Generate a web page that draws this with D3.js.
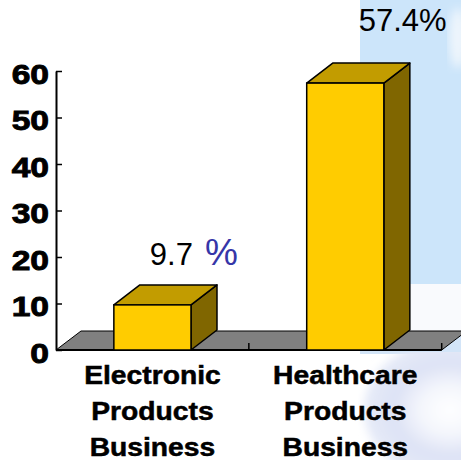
<!DOCTYPE html>
<html>
<head>
<meta charset="utf-8">
<script src="https://cdn.jsdelivr.net/npm/d3@7"></script>
<style>
  body { margin: 0; background: #fff; }
  svg { display: block; }
  text { font-family: "Liberation Sans", Arial, sans-serif; }
</style>
</head>
<body>
<svg id="chart" width="461" height="460"></svg>
<script>
// data
var categories = ["Electronic Products Business", "Healthcare Products Business"]
var shares = [9.7, 57.4]
var valueLabels = ["9.7", "57.4%"]
var yTicks = [0, 10, 20, 30, 40, 50, 60]

var svg = d3.select("#chart")
var W = 461, H = 460
var x0 = 56, x1 = 441.7, yBase = 350, yTop = 71
var depth = {dx: 26, dy: -20}      // bar depth
var floorDepth = {dx: 25, dy: -19}

var xScale = d3.scaleBand().domain(categories).range([x0, x1]).padding(0)
var yScale = d3.scaleLinear().domain([0, 60]).range([yBase, yTop])
var barW = xScale.bandwidth() * 0.4

// background (slide decoration on the right)
var defs = svg.append("defs")
defs.append("filter").attr("id", "blur")
   .append("feGaussianBlur").attr("stdDeviation", 5)
var rg = defs.append("radialGradient").attr("id", "disc")
rg.append("stop").attr("offset", "0%").attr("stop-color", "#ffffff")
rg.append("stop").attr("offset", "35%").attr("stop-color", "#f4f6fc")
rg.append("stop").attr("offset", "65%").attr("stop-color", "#dde2f5")
rg.append("stop").attr("offset", "100%").attr("stop-color", "#e6ebf8")

var bg = svg.append("g")
bg.append("rect").attr("x", 360).attr("y", 0).attr("width", W - 360).attr("height", 284)
   .attr("fill", "#cce5fa")
bg.append("rect").attr("x", 360).attr("y", 284).attr("width", W - 360).attr("height", 48)
   .attr("fill", "#f9fafd")
bg.append("rect").attr("x", 360).attr("y", 332).attr("width", W - 360).attr("height", 22)
   .attr("fill", "#d3e5f8")
bg.append("clipPath").attr("id", "rightClip")
   .append("rect").attr("x", 358).attr("y", 352).attr("width", 110).attr("height", 120)
bg.append("g").attr("clip-path", "url(#rightClip)")
   .append("ellipse").attr("cx", 450).attr("cy", 410).attr("rx", 86).attr("ry", 70)
   .attr("fill", "url(#disc)").attr("filter", "url(#blur)")
bg.append("ellipse").attr("cx", 458).attr("cy", 38).attr("rx", 9).attr("ry", 30)
   .attr("fill", "#eef5fc").attr("filter", "url(#blur)")

// floor
var floorPts = [[x0, yBase], [x0 + floorDepth.dx, yBase + floorDepth.dy],
   [x1 + floorDepth.dx, yBase + floorDepth.dy], [x1, yBase]]
svg.append("polygon")
   .attr("points", floorPts.map(p => p.join(",")).join(" "))
   .attr("fill", "#808080")
   .attr("stroke", "#000")
   .attr("stroke-width", 1)

// x axis (front edge of floor)
svg.append("line")
   .attr("x1", x0).attr("x2", x1).attr("y1", yBase).attr("y2", yBase)
   .attr("stroke", "#000").attr("stroke-width", 2)
svg.selectAll(".xtick")
   .data(categories)
   .join("line")
   .attr("class", "xtick")
   .attr("x1", d => xScale(d) + xScale.bandwidth())
   .attr("x2", d => xScale(d) + xScale.bandwidth())
   .attr("y1", yBase).attr("y2", yBase - 7)
   .attr("stroke", "#000").attr("stroke-width", 1.5)

// y axis
var yAxis = d3.axisLeft(yScale).tickValues(yTicks).tickSizeInner(-6).tickSizeOuter(0).tickPadding(7)
var gy = svg.append("g")
   .attr("transform", "translate(" + x0 + ",0)")
   .call(yAxis)
gy.select(".domain").attr("stroke", "#000").attr("stroke-width", 2)
gy.selectAll(".tick line").attr("stroke", "#000").attr("stroke-width", 1.5)
gy.selectAll(".tick text")
   .attr("x", 0).attr("y", 0).attr("dy", 0)
   .attr("transform", "translate(-7,12) scale(1.2,1)")
   .attr("fill", "#000")
   .attr("stroke", "#000")
   .attr("stroke-width", 0.9)
   .style("font-size", "28px")
   .style("font-weight", "bold")
   .style("font-family", "'Liberation Sans', Arial, sans-serif")

// 3D bars
var bars = svg.selectAll(".bar")
   .data(categories.map((c, i) => ({cat: c, v: shares[i]})))
   .join("g")
   .attr("class", "bar")

bars.each(function(d) {
   var g = d3.select(this)
   var bx = xScale(d.cat) + (xScale.bandwidth() - barW) / 2
   var by = yScale(d.v)
   var dx = depth.dx, dy = depth.dy
   // side
   g.append("polygon")
      .attr("points", [[bx + barW, yBase], [bx + barW, by], [bx + barW + dx, by + dy], [bx + barW + dx, yBase + dy]].map(p => p.join(",")).join(" "))
      .attr("fill", "#806600").attr("stroke", "#000").attr("stroke-width", 1.5).attr("stroke-linejoin", "round")
   // top
   g.append("polygon")
      .attr("points", [[bx, by], [bx + dx, by + dy], [bx + barW + dx, by + dy], [bx + barW, by]].map(p => p.join(",")).join(" "))
      .attr("fill", "#c29c00").attr("stroke", "#000").attr("stroke-width", 1.5).attr("stroke-linejoin", "round")
   // front
   g.append("rect")
      .attr("x", bx).attr("y", by)
      .attr("width", barW).attr("height", yBase - by)
      .attr("fill", "#ffcc00").attr("stroke", "#000").attr("stroke-width", 1.5)
})

// value labels
var labelOffset = [[36, -40], [52, -52]]
var vl = svg.selectAll(".vlabel")
   .data(categories)
   .join("text")
   .attr("class", "vlabel")
   .attr("x", (d, i) => xScale(d) + (xScale.bandwidth() - barW) / 2 + labelOffset[i][0])
   .attr("y", (d, i) => yScale(shares[i]) + labelOffset[i][1])
   .style("font-size", "31px")
   .attr("fill", "#000")
   .text((d, i) => valueLabels[i])
// the first label has a separate, larger blue percent sign
d3.select(vl.nodes()[0]).append("tspan")
   .attr("dx", 12)
   .attr("fill", "#3636a8")
   .style("font-size", "37px")
   .text("%")

// category labels
var cl = svg.selectAll(".clabel")
   .data(categories)
   .join("g")
   .attr("class", "clabel")
cl.each(function(d) {
   var cx = xScale(d) + xScale.bandwidth() / 2
   d.split(" ").forEach((w, k) => {
      d3.select(this).append("text")
         .attr("transform", "translate(" + cx + "," + (384 + k * 36) + ") scale(1.13,1)")
         .attr("text-anchor", "middle")
         .attr("stroke", "#000")
         .attr("stroke-width", 0.5)
         .style("font-size", "25px")
         .style("font-weight", "bold")
         .attr("fill", "#000")
         .text(w)
   })
})
</script>
</body>
</html>
